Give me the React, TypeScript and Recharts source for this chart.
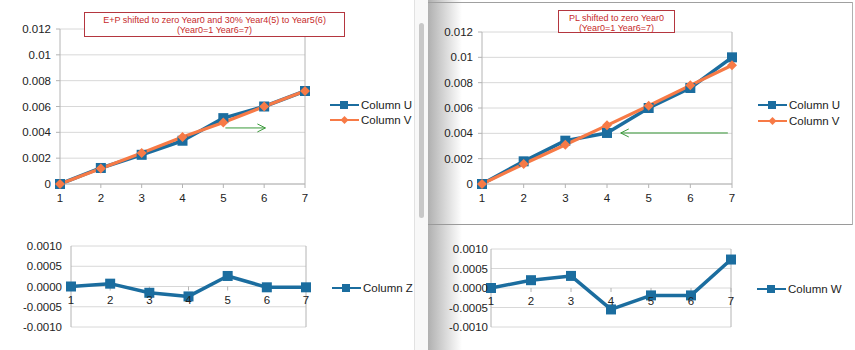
import {
  CartesianGrid,
  Line,
  LineChart,
  ReferenceDot,
  ReferenceLine,
  XAxis,
  YAxis,
} from 'recharts'

// x positions (Year0 = 1 ... Year6 = 7)
const years = [1, 2, 3, 4, 5, 6, 7]

// left sheet: E+P
const leftColumnU = [0, 0.00124, 0.00226, 0.00335, 0.0051, 0.006, 0.0072]
const leftColumnV = [0, 0.0012, 0.0024, 0.00363, 0.00477, 0.006, 0.0072]
const leftColumnZ = [0, 0.00007, -0.000155, -0.000245, 0.00026, -0.00002, -0.00002]

// right sheet: PL
const rightColumnU = [0, 0.00179, 0.00342, 0.00403, 0.006, 0.00758, 0.01]
const rightColumnV = [0, 0.00158, 0.0031, 0.00463, 0.00618, 0.00779, 0.00937]
const rightColumnW = [0, 0.0002, 0.00031, -0.00055, -0.00019, -0.00019, 0.00073]

const levelTicks = [0, 0.002, 0.004, 0.006, 0.008, 0.01, 0.012]
const diffTicks = [-0.001, -0.0005, 0, 0.0005, 0.001]

// green arrow notes, in data coordinates
const leftArrow = [{ x: 5.05, y: 0.00434 }, { x: 6.03, y: 0.00434 }]
const rightArrow = [{ x: 4.33, y: 0.00403 }, { x: 6.9, y: 0.00403 }]

const leftTitle = ['E+P shifted to zero Year0 and 30% Year4(5) to Year5(6)', '(Year0=1 Year6=7)']
const rightTitle = ['PL shifted to zero Year0', '(Year0=1 Year6=7)']

const BLUE = '#1b6d9f'
const ORANGE = '#f77a46'
const GREEN = '#3a9a3a'
const GRID = '#d8d8d8'
const AXIS = '#b4b4b4'
const TEXT = '#222'
const FONT = '"Liberation Sans", Arial, sans-serif'
const FS = 11.5

const leftTop = years.map((x, i) => ({ x, u: leftColumnU[i], v: leftColumnV[i] }))
const rightTop = years.map((x, i) => ({ x, u: rightColumnU[i], v: rightColumnV[i] }))
const leftBottom = years.map((x, i) => ({ x, z: leftColumnZ[i] }))
const rightBottom = years.map((x, i) => ({ x, w: rightColumnW[i] }))

function SquareDot(props: any) {
  const { cx, cy, index } = props
  if (cx == null || cy == null) return null
  return <rect key={`sq-${index}`} x={cx - 5} y={cy - 5} width={10} height={10} fill={BLUE} />
}

function DiamondDot(props: any) {
  const { cx, cy, index } = props
  if (cx == null || cy == null) return null
  return (
    <polygon
      key={`dm-${index}`}
      points={`${cx},${cy - 5} ${cx + 5},${cy} ${cx},${cy + 5} ${cx - 5},${cy}`}
      fill={ORANGE}
    />
  )
}

function arrowShape(head: 'start' | 'end') {
  return (props: any) => {
    const { x1, y1, x2, y2 } = props
    const hx = head === 'end' ? Math.max(x1, x2) : Math.min(x1, x2)
    const d = head === 'end' ? -8 : 8
    return (
      <g>
        <line x1={x1} y1={y1} x2={x2} y2={y2} stroke={GREEN} strokeWidth={1} />
        <polyline
          points={`${hx + d},${y1 - 4} ${hx},${y1} ${hx + d},${y1 + 4}`}
          fill="none"
          stroke={GREEN}
          strokeWidth={1}
        />
      </g>
    )
  }
}

function XTickMark(props: any) {
  const { cx, cy } = props
  if (cx == null) return null
  return <line x1={cx} y1={cy} x2={cx} y2={cy + 4} stroke={AXIS} />
}

function TitleBox({ lines, left, top, width, height }: { lines: string[]; left: number; top: number; width: number; height: number }) {
  return (
    <div
      style={{
        position: 'absolute',
        left,
        top,
        width,
        height,
        boxSizing: 'border-box',
        border: '1px solid #b4363f',
        background: '#fff',
        color: '#c62a2a',
        fontFamily: FONT,
        fontSize: 9,
        lineHeight: '10px',
        textAlign: 'center',
        paddingTop: 2,
        zIndex: 2,
      }}
    >
      {lines.map((l) => (
        <div key={l}>{l}</div>
      ))}
    </div>
  )
}

interface LegendItem {
  name: string
  color: string
  marker: 'square' | 'diamond'
}

function SheetLegend({ items, left, top, rowGap }: { items: LegendItem[]; left: number; top: number; rowGap: number }) {
  return (
    <div style={{ position: 'absolute', left, top, fontFamily: FONT, fontSize: FS, color: TEXT }}>
      {items.map((it) => (
        <div key={it.name} style={{ display: 'flex', alignItems: 'center', height: rowGap }}>
          <svg width={29} height={10} style={{ marginRight: 2 }}>
            <line x1={0} y1={5} x2={29} y2={5} stroke={it.color} strokeWidth={2} />
            {it.marker === 'square' ? (
              <rect x={10} y={1} width={8} height={8} fill={it.color} />
            ) : (
              <polygon points="14.5,1 18.5,5 14.5,9 10.5,5" fill={it.color} />
            )}
          </svg>
          <span>{it.name}</span>
        </div>
      ))}
    </div>
  )
}

function LevelChart({ data, left, width, yWidth, marginTop, marginRight, arrow, head }: any) {
  return (
    <div style={{ position: 'absolute', left, top: 0 }}>
      <LineChart
        width={width}
        height={215}
        data={data}
        margin={{ top: marginTop, right: marginRight, bottom: 6, left: 0 }}
        style={{ fontFamily: FONT }}
      >
        <CartesianGrid stroke={GRID} vertical={false} />
        <XAxis
          type="number"
          dataKey="x"
          domain={[1, 7]}
          ticks={years}
          interval={0}
          height={25}
          tickSize={4}
          tickMargin={6}
          axisLine={{ stroke: AXIS }}
          tickLine={{ stroke: AXIS }}
          tick={{ fill: TEXT, fontSize: FS }}
        />
        <YAxis
          type="number"
          domain={[0, 0.012]}
          ticks={levelTicks}
          interval={0}
          width={yWidth}
          tickSize={4}
          tickMargin={5}
          tickFormatter={(v: number) => String(v)}
          axisLine={{ stroke: AXIS }}
          tickLine={{ stroke: AXIS }}
          tick={{ fill: TEXT, fontSize: FS }}
        />
        <ReferenceLine x={7} stroke={AXIS} />
        <ReferenceLine segment={arrow} shape={arrowShape(head)} />
        <Line
          dataKey="u"
          stroke={BLUE}
          strokeWidth={3.5}
          strokeLinejoin="round"
          dot={SquareDot}
          activeDot={false}
          isAnimationActive={false}
        />
        <Line
          dataKey="v"
          stroke={ORANGE}
          strokeWidth={3.2}
          strokeLinejoin="round"
          dot={DiamondDot}
          activeDot={false}
          isAnimationActive={false}
        />
      </LineChart>
    </div>
  )
}

function DiffChart({ data, dataKey, left, width, yWidth, marginTop, marginRight, tickMargin }: any) {
  return (
    <div style={{ position: 'absolute', left, top: 215 }}>
      <LineChart
        width={width}
        height={135}
        data={data}
        margin={{ top: marginTop, right: marginRight, bottom: 23, left: 0 }}
        style={{ fontFamily: FONT }}
      >
        <CartesianGrid stroke={GRID} vertical={false} />
        <XAxis type="number" dataKey="x" domain={[1, 7]} ticks={years} hide />
        <YAxis
          type="number"
          domain={[-0.001, 0.001]}
          ticks={diffTicks}
          interval={0}
          width={yWidth}
          tickSize={0}
          tickMargin={tickMargin}
          tickFormatter={(v: number) => v.toFixed(4)}
          axisLine={{ stroke: AXIS }}
          tickLine={false}
          tick={{ fill: TEXT, fontSize: FS }}
        />
        <ReferenceLine x={7} stroke={AXIS} />
        {years.map((y) => (
          <ReferenceDot
            key={y}
            x={y}
            y={0}
            r={0}
            shape={XTickMark}
            label={{ value: String(y), position: 'bottom', offset: 9, fill: TEXT, fontSize: FS }}
          />
        ))}
        <Line
          dataKey={dataKey}
          stroke={BLUE}
          strokeWidth={3.5}
          strokeLinejoin="round"
          dot={SquareDot}
          activeDot={false}
          isAnimationActive={false}
        />
      </LineChart>
    </div>
  )
}

export default function App() {
  return (
    <div style={{ position: 'absolute', left: 0, top: 0, width: 855, height: 350, background: '#fff', overflow: 'hidden' }}>
      {/* sheet chrome: scrollbar and split between the two windows */}
      <div style={{ position: 'absolute', left: 414, top: 0, width: 14, height: 350, background: '#f8f8f8', borderLeft: '1px solid #e2e2e2' }} />
      <div style={{ position: 'absolute', left: 419, top: 23, width: 5, height: 195, borderRadius: 3, background: '#c8c8c8' }} />
      <div
        style={{
          position: 'absolute',
          left: 428,
          top: 0,
          width: 34,
          height: 350,
          background: 'linear-gradient(to right, #b0b0b0, rgba(255,255,255,0))',
        }}
      />
      <div style={{ position: 'absolute', left: 428, top: 2, width: 425, height: 1, background: '#a0a0a0' }} />
      <div style={{ position: 'absolute', left: 428, top: 224, width: 425, height: 1, background: '#9a9a9a' }} />
      <div style={{ position: 'absolute', left: 852, top: 2, width: 1, height: 223, background: '#b0b0b0' }} />

      <LevelChart data={leftTop} left={0} width={415} yWidth={60} marginTop={29} marginRight={110} arrow={leftArrow} head="end" />
      <LevelChart data={rightTop} left={425} width={428} yWidth={57} marginTop={32} marginRight={121} arrow={rightArrow} head="start" />
      <DiffChart data={leftBottom} dataKey="z" left={0} width={415} yWidth={71} marginTop={31} marginRight={109} tickMargin={9} />
      <DiffChart data={rightBottom} dataKey="w" left={425} width={428} yWidth={66} marginTop={34} marginRight={122} tickMargin={3} />

      <TitleBox lines={leftTitle} left={84} top={12} width={261} height={25} />
      <TitleBox lines={rightTitle} left={558} top={10} width={117} height={23} />

      <SheetLegend
        items={[
          { name: 'Column U', color: BLUE, marker: 'square' },
          { name: 'Column V', color: ORANGE, marker: 'diamond' },
        ]}
        left={330}
        top={97}
        rowGap={15}
      />
      <SheetLegend
        items={[
          { name: 'Column U', color: BLUE, marker: 'square' },
          { name: 'Column V', color: ORANGE, marker: 'diamond' },
        ]}
        left={758}
        top={97}
        rowGap={16}
      />
      <SheetLegend items={[{ name: 'Column Z', color: BLUE, marker: 'square' }]} left={332} top={280} rowGap={16} />
      <SheetLegend items={[{ name: 'Column W', color: BLUE, marker: 'square' }]} left={757} top={281} rowGap={16} />
    </div>
  )
}
